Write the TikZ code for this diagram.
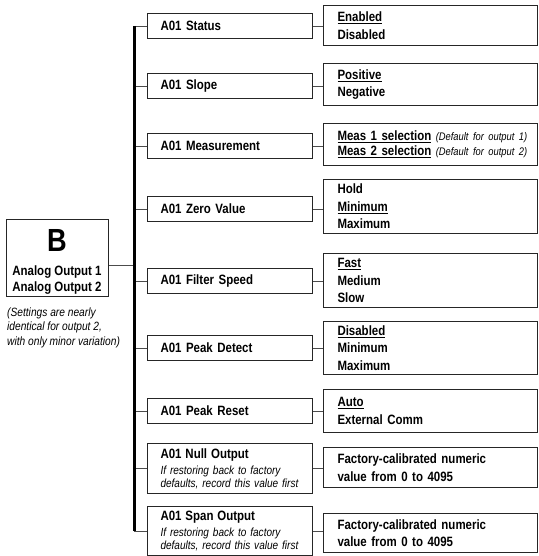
\documentclass[tikz,border=0pt]{standalone}
\usepackage{fontspec}
\setmainfont[FakeStretch=0.85]{Liberation Sans}
\newcommand{\bfs}{\fontsize{13.5}{17.5}\selectfont\bfseries\upshape}
\newcommand{\its}{\fontsize{11.8}{13}\selectfont\mdseries\itshape}
\newcommand{\notefont}{\fontsize{12}{14.6}\selectfont\mdseries\itshape}
\newcommand{\defit}{\fontsize{11}{14}\selectfont\mdseries\itshape}
\tikzset{
  box/.style={draw=black!85, line width=1pt, rectangle, anchor=north west, inner ysep=0pt, align=left},
  midbox/.style={box, inner xsep=13pt, text width=139pt, font=\bfs, minimum height=25pt},
  optbox/.style={box, inner xsep=14pt, text width=186pt, font=\bfs},
  conn/.style={draw=black!70, line width=0.8pt},
  trunk/.style={draw=black, line width=3pt},
}
\begin{document}
\begin{tikzpicture}[x=1pt,y=-1pt]
\useasboundingbox (0,0) rectangle (538,556);
% root
\node[draw=black!85, line width=1pt, rectangle, minimum width=102pt, minimum height=77pt, inner sep=0pt] (B) at (57,257.5) {};
\node[inner sep=0pt, align=center, font=\bfs] (Btext) at (57,262)
  {{\fontsize{32}{28}\selectfont B}\\[7pt]Analog Output 1\\[-1.5pt]Analog Output 2};
\node[anchor=north west, inner sep=0pt, align=left, font=\notefont] (note) at (7,307.5)
  {(Settings are nearly\\identical for output 2,\\with only minor variation)};
% middle boxes
\node[midbox] (s1) at (147,13) {A01 Status};
\node[midbox] (s2) at (147,73) {A01 Slope};
\node[midbox] (s3) at (147,133) {A01 Measurement};
\node[midbox] (s4) at (147,196) {A01 Zero Value};
\node[midbox] (s5) at (147,268) {A01 Filter Speed};
\node[midbox] (s6) at (147,335) {A01 Peak Detect};
\node[midbox] (s7) at (147,398) {A01 Peak Reset};
\node[midbox, minimum height=50pt, font=\its] (s8) at (147,443)
  {\mbox{\bfs A01 Null Output}\\[3pt]\mbox{If restoring back to factory}\\\mbox{defaults, record this value first}};
\node[midbox, minimum height=49pt, font=\its] (s9) at (147,506)
  {\mbox{\bfs A01 Span Output}\\[3pt]\mbox{If restoring back to factory}\\\mbox{defaults, record this value first}};
% option boxes
\node[optbox, minimum height=40pt] (o1) at (323,5) {\underline{Enabled}\\Disabled};
\node[optbox, minimum height=42pt] (o2) at (323,63) {\underline{Positive}\\Negative};
\node[optbox, minimum height=42pt] (o3) at (323,123)
  {\mbox{\underline{Meas 1 selection} {\defit (Default for output 1)}}\\[-2.5pt]\mbox{\underline{Meas 2 selection} {\defit (Default for output 2)}}};
\node[optbox, minimum height=54pt] (o4) at (323,179) {Hold\\\underline{Minimum}\\Maximum};
\node[optbox, minimum height=54pt] (o5) at (323,253) {\underline{Fast}\\Medium\\Slow};
\node[optbox, minimum height=53pt] (o6) at (323,321) {\underline{Disabled}\\Minimum\\Maximum};
\node[optbox, minimum height=43pt] (o7) at (323,389) {\underline{Auto}\\External Comm};
\node[optbox, minimum height=40pt] (o8) at (323,447) {Factory-calibrated numeric\\value from 0 to 4095};
\node[optbox, minimum height=39pt] (o9) at (323,513) {Factory-calibrated numeric\\value from 0 to 4095};
% trunk
\coordinate (tx) at (134,0);
\coordinate (ttop) at (tx |- s1.west);
\coordinate (tbot) at (tx |- s9.west);
\coordinate (bj) at (134,265);
\draw[conn] (B.east |- bj) -- (bj);
\foreach \i in {1,...,9}{
  \draw[conn] (s\i.west -| tx) -- (s\i.west);
  \draw[conn] (s\i.east) -- (s\i.east -| o\i.west);
}
\draw[trunk] (ttop) -- (tbot);
\end{tikzpicture}
\end{document}
